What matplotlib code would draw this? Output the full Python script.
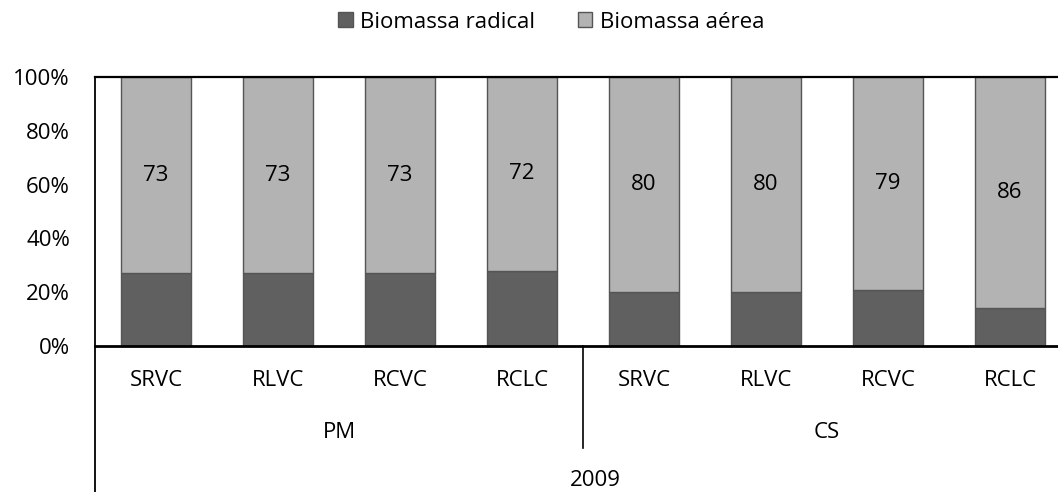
import matplotlib
matplotlib.use("Agg")
import matplotlib.pyplot as plt
import matplotlib.transforms as mtrans
from matplotlib.patches import Patch

categories = ["SRVC", "RLVC", "RCVC", "RCLC", "SRVC", "RLVC", "RCVC", "RCLC"]
groups = ["PM", "CS"]
year = "2009"
radical = [27, 27, 27, 28, 20, 20, 21, 14]
aerea = [73, 73, 73, 72, 80, 80, 79, 86]

plt.rcParams['font.family'] = ['Open Sans', 'DejaVu Sans']
FS = 16
W, H = 1058, 492
fig = plt.figure(figsize=(W/100, H/100), dpi=100)
left, right, top, bottom = 95, 1071, 77, 346
ax = fig.add_axes([left/W, (H-bottom)/H, (right-left)/W, (bottom-top)/H])

c_rad = "#606060"
c_aer = "#b3b3b3"
edge = "#555555"
x = list(range(len(categories)))
bw = 0.575
ax.bar(x, radical, bw, color=c_rad, edgecolor=edge, linewidth=1.0, label="Biomassa radical")
ax.bar(x, aerea, bw, bottom=radical, color=c_aer, edgecolor=edge, linewidth=1.0, label="Biomassa aérea")
for i, (r, a) in enumerate(zip(radical, aerea)):
    ax.text(i, r + a/2, f"{a}", ha="center", va="center", fontsize=FS, color="black")

ax.set_xlim(-0.5, len(categories) - 0.5)
ax.set_ylim(0, 100)
ax.set_yticks([0, 20, 40, 60, 80, 100])
ax.set_yticklabels([f"{v}%" for v in [0, 20, 40, 60, 80, 100]], fontsize=FS)
ax.tick_params(axis='y', length=0, pad=18)
ax.set_xticks([])
for s in ["left", "top", "bottom"]:
    ax.spines[s].set_color("black")
ax.spines["left"].set_linewidth(1.3)
ax.spines["top"].set_linewidth(1.6)
ax.spines["bottom"].set_linewidth(2.0)
ax.spines["right"].set_visible(False)

h = bottom - top
trans = mtrans.blended_transform_factory(ax.transData, ax.transAxes)
def yf(py):
    return -(py - bottom) / h

for i, c in enumerate(categories):
    ax.text(i, yf(380), c, transform=trans, ha="center", va="center", fontsize=FS, clip_on=False)
ax.text(1.5, yf(432), groups[0], transform=trans, ha="center", va="center", fontsize=FS, clip_on=False)
ax.text(5.5, yf(432), groups[1], transform=trans, ha="center", va="center", fontsize=FS, clip_on=False)
ax.text(3.6, yf(481), year, transform=trans, ha="center", va="center", fontsize=FS, clip_on=False)

ax.plot([3.5, 3.5], [0, yf(448)], transform=trans, color="black", lw=1.2, clip_on=False)
ax.plot([-0.5, -0.5], [0, yf(492)], transform=trans, color="black", lw=1.3, clip_on=False)

handles = [Patch(facecolor=c_rad, edgecolor=edge, label="Biomassa radical"),
           Patch(facecolor=c_aer, edgecolor=edge, label="Biomassa aérea")]
fig.legend(handles=handles, loc="center", bbox_to_anchor=(0.521, 1 - 22/H), ncol=2,
           frameon=False, fontsize=FS, handlelength=0.65, handleheight=0.65,
           handletextpad=0.35, columnspacing=1.9)

fig.savefig("out.png", dpi=100)
